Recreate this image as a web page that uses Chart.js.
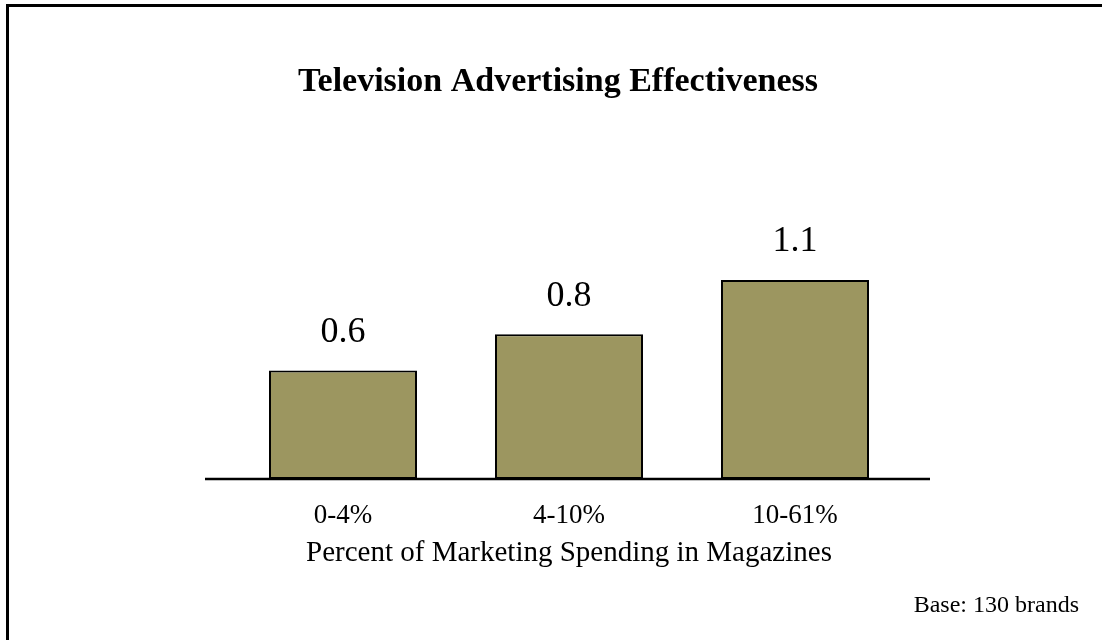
<!DOCTYPE html>
<html>
<head>
<meta charset="utf-8">
<script src="https://cdn.jsdelivr.net/npm/chart.js@4.4.0/dist/chart.umd.min.js"></script>
<style>
  html, body { margin: 0; padding: 0; background: #fff; overflow: hidden; }
  #wrap { position: relative; width: 1102px; height: 640px; overflow: hidden; }
  #frame { position: absolute; left: 6px; top: 4px; width: 1200px; height: 800px;
           border: 3px solid #000; box-sizing: border-box; pointer-events: none; }
  canvas { position: absolute; left: 0; top: 0; }
</style>
</head>
<body>
<div id="wrap">
  <canvas id="c" width="1102" height="640"></canvas>
  <div id="frame"></div>
</div>
<script>
const chartTitle = "Television Advertising Effectiveness";
const categories = ["0-4%", "4-10%", "10-61%"];
const effectiveness = [0.6, 0.8, 1.1];
const xAxisTitle = "Percent of Marketing Spending in Magazines";
const baseNote = "Base: 130 brands";

const SERIF = '"Liberation Serif", "Times New Roman", Times, serif';

const decorPlugin = {
  id: 'decor',
  afterDatasetsDraw(chart) {
    const ctx = chart.ctx;
    const area = chart.chartArea;
    const y0 = chart.scales.y.getPixelForValue(0);
    ctx.save();
    // baseline
    ctx.strokeStyle = '#000';
    ctx.lineWidth = 2.5;
    ctx.beginPath();
    ctx.moveTo(area.left - 25, y0);
    ctx.lineTo(area.right + 22, y0);
    ctx.stroke();
    // value labels
    const meta = chart.getDatasetMeta(0);
    ctx.fillStyle = '#000';
    ctx.font = '36px ' + SERIF;
    ctx.textAlign = 'center';
    ctx.textBaseline = 'middle';
    meta.data.forEach((bar, i) => {
      ctx.fillText(effectiveness[i].toFixed(1), bar.x, bar.y - 38);
    });
    // base note
    ctx.font = '24px ' + SERIF;
    ctx.textAlign = 'right';
    ctx.fillText(baseNote, 1079, 606);
    ctx.restore();
  }
};

new Chart(document.getElementById('c'), {
  type: 'bar',
  data: {
    labels: categories,
    datasets: [{
      data: effectiveness,
      backgroundColor: '#9C9660',
      borderColor: '#000',
      borderWidth: 2,
      borderSkipped: false,
      barPercentage: 0.655,
      categoryPercentage: 1.0
    }]
  },
  options: {
    responsive: false,
    animation: false,
    devicePixelRatio: 1,
    layout: { padding: { left: 208, right: 194, top: 0, bottom: 0 } },
    plugins: {
      legend: { display: false },
      tooltip: { enabled: false },
      title: {
        display: true,
        text: chartTitle,
        color: '#000',
        font: { family: SERIF, size: 34, weight: 'bold' },
        padding: { top: 61.6, bottom: 105.2 }
      }
    },
    scales: {
      x: {
        grid: { display: false, drawTicks: false },
        border: { display: false },
        ticks: { color: '#000', font: { family: SERIF, size: 27 }, padding: 21 },
        title: {
          display: true,
          text: xAxisTitle,
          color: '#000',
          font: { family: SERIF, size: 29 },
          padding: { top: 0, bottom: 69 }
        },
        afterFit(scale) { scale.height = 161; }
      },
      y: {
        display: true,
        min: 0,
        max: 1.5,
        grid: { display: false, drawTicks: false },
        border: { display: false },
        ticks: { display: false },
        afterFit(scale) { scale.width = 22; }
      }
    }
  },
  plugins: [decorPlugin]
});
</script>
</body>
</html>
